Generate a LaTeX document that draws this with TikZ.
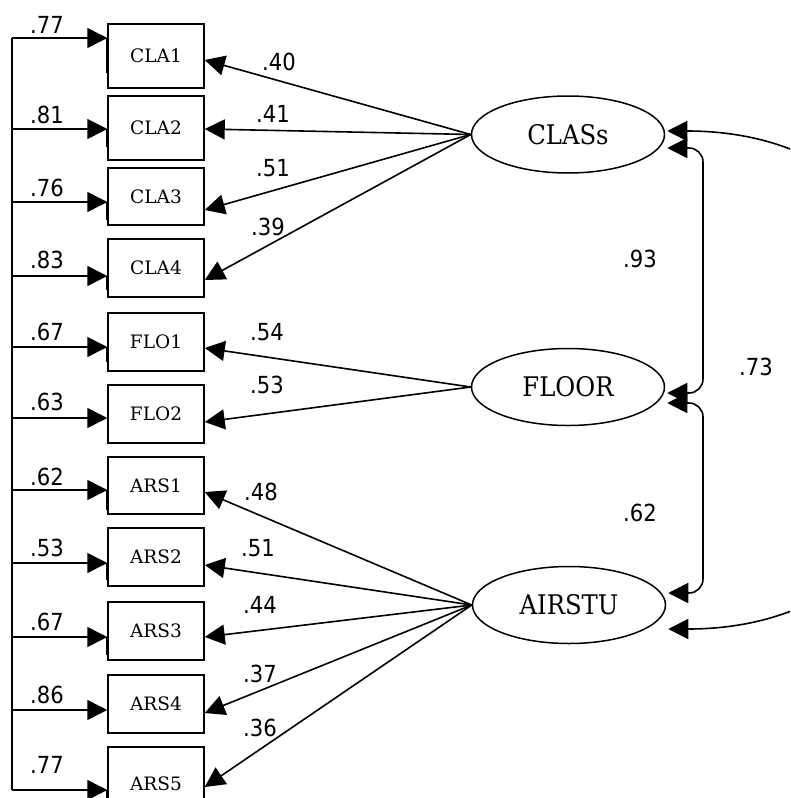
\documentclass[tikz,border=0pt]{standalone}
\usepackage{fontspec}
\setmainfont{DejaVu Serif}
\newfontfamily\coefont{DejaVu Sans Condensed}
\newfontfamily\latentfont{DejaVu Serif Condensed}
\usetikzlibrary{arrows.meta,shapes.geometric}
\tikzset{
  obs/.style={draw,line width=1.5pt,minimum width=96pt,inner sep=0pt,
    font=\fontsize{18.5}{20}\selectfont},
  lat/.style={ellipse,draw,line width=1.5pt,minimum width=193pt,minimum height=77pt,
    inner sep=0pt,font=\latentfont\fontsize{27}{30}\selectfont},
  tipb/.tip={Triangle[length=20pt,width=20pt]},
  arr/.style={line width=1.6pt,-tipb},
  darr/.style={line width=1.6pt,tipb-tipb,rounded corners=14pt},
  coef/.style={font=\coefont\fontsize{23.5}{25}\selectfont,inner sep=0pt},
  spine/.style={line width=1.8pt},
  edgetick/.style={line width=2.2pt}
}
\begin{document}
\begin{tikzpicture}[x=1pt,y=-1pt]
\useasboundingbox (0,0) rectangle (790,798);
\clip (0,0) rectangle (790,798);

% observed indicators
\node[obs,minimum height=64pt] (cla1) at (156,56) {CLA1};
\node[obs,minimum height=64pt] (cla2) at (156,128) {CLA2};
\node[obs,minimum height=57pt] (cla3) at (156,196.5) {CLA3};
\node[obs,minimum height=58pt] (cla4) at (156,268) {CLA4};
\node[obs,minimum height=58pt] (flo1) at (156,342) {FLO1};
\node[obs,minimum height=58pt] (flo2) at (156,414) {FLO2};
\node[obs,minimum height=57pt] (ars1) at (156,485.5) {ARS1};
\node[obs,minimum height=58pt] (ars2) at (156,557) {ARS2};
\node[obs,minimum height=58pt] (ars3) at (156,631) {ARS3};
\node[obs,minimum height=58pt] (ars4) at (156,704) {ARS4};
\node[obs,minimum height=73pt] (ars5) at (156,783.5) {ARS5};

% latent factors
\node[lat] (class) at (568,134.5) {CLASs};
\node[lat] (floor) at (568,387) {FLOOR};
\node[lat] (airstu) at (569,605) {AIRSTU};

% error terms: common spine on the left
\coordinate (s1) at (12,38);
\coordinate (s2) at (12,129);
\coordinate (s3) at (12,202);
\coordinate (s4) at (12,276);
\coordinate (s5) at (12,347);
\coordinate (s6) at (12,418);
\coordinate (s7) at (12,490);
\coordinate (s8) at (12,563);
\coordinate (s9) at (12,637);
\coordinate (s10) at (12,710);
\coordinate (s11) at (12,790);
\draw[spine] (s1) -- (s11);

\foreach \s/\b in {s1/cla1,s2/cla2,s3/cla3,s4/cla4,s5/flo1,s6/flo2,
                   s7/ars1,s8/ars2,s9/ars3,s10/ars4,s11/ars5}
  \draw[arr] (\s) -- (\s -| \b.west);

% short heavy marks on the left box edges
\foreach \s/\b/\l in {s1/cla1/35,s2/cla2/18,s3/cla3/18,s4/cla4/14,s5/flo1/15,
                      s7/ars1/20,s8/ars2/17,s9/ars3/18,s11/ars5/10}
  \draw[edgetick] (\s -| \b.west) -- ++(0,\l);

% error variances
\node[coef] at (47,25) {.77};
\node[coef] at (47,115) {.81};
\node[coef] at (47,188) {.76};
\node[coef] at (47,260) {.83};
\node[coef] at (47,332) {.67};
\node[coef] at (47,402) {.63};
\node[coef] at (47,477) {.62};
\node[coef] at (47,548) {.53};
\node[coef] at (47,622) {.67};
\node[coef] at (47,695) {.86};
\node[coef] at (47,765) {.77};

% factor loadings
\draw[arr] (class.west) -- ([yshift=-4pt]cla1.east);
\draw[arr] (class.west) -- ([yshift=-1pt]cla2.east);
\draw[arr] (class.west) -- ([yshift=-13.5pt]cla3.east);
\draw[arr] (class.west) -- ([yshift=-12pt]cla4.east);
\draw[arr] (floor.west) -- ([yshift=-6pt]flo1.east);
\draw[arr] (floor.west) -- ([yshift=-8pt]flo2.east);
\draw[arr] (airstu.west) -- ([yshift=-6.5pt]ars1.east);
\draw[arr] (airstu.west) -- ([yshift=-8pt]ars2.east);
\draw[arr] (airstu.west) -- ([yshift=-6pt]ars3.east);
\draw[arr] (airstu.west) -- ([yshift=-9pt]ars4.east);
\draw[arr] (airstu.west) -- ([yshift=-3.5pt]ars5.east);

\node[coef] at (279,62) {.40};
\node[coef] at (273,114) {.41};
\node[coef] at (273,168) {.51};
\node[coef] at (268,227) {.39};
\node[coef] at (267,332) {.54};
\node[coef] at (267,385) {.53};
\node[coef] at (261,492) {.48};
\node[coef] at (258,548) {.51};
\node[coef] at (260,605) {.44};
\node[coef] at (260,674) {.37};
\node[coef] at (260,728) {.36};

% factor correlations
\coordinate (rail) at (703,0);
\coordinate (ca) at ([xshift=2pt,yshift=-13.5pt]class.east);
\coordinate (fa) at ([xshift=2pt,yshift=-6pt]floor.east);
\coordinate (fb) at ([xshift=2pt,yshift=-16pt]floor.east);
\coordinate (aa) at ([xshift=2pt,yshift=12pt]airstu.east);
\coordinate (cb) at ([xshift=2pt,yshift=3.5pt]class.east);
\coordinate (ab) at ([xshift=2pt,yshift=-24pt]airstu.east);

\draw[darr] (ca) -- (ca -| rail) -- (fa -| rail) -- (fa);
\draw[darr] (fb) -- (fb -| rail) -- (aa -| rail) -- (aa);
\draw[line width=1.6pt,tipb-tipb] (cb) .. controls +(360,0) and +(360,0) .. (ab);

\node[coef] at (640,259) {.93};
\node[coef] at (756,367) {.73};
\node[coef] at (640,513) {.62};
\end{tikzpicture}
\end{document}
